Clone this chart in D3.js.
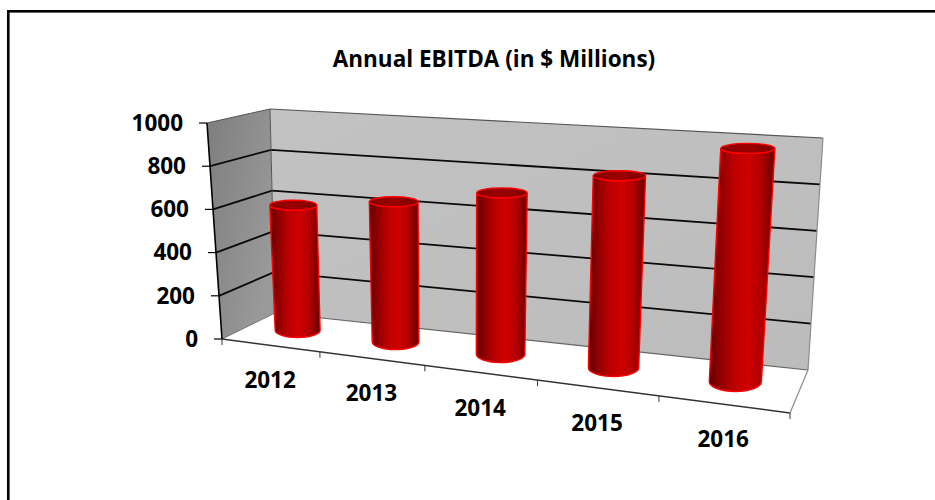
<!DOCTYPE html>
<html>
<head>
<meta charset="utf-8">
<script src="https://cdn.jsdelivr.net/npm/d3@7/dist/d3.min.js"></script>
<style>
  html, body { margin: 0; padding: 0; background: #fff; }
  svg { display: block; }
  text { font-family: "Open Sans", Lato, sans-serif; font-weight: 700; fill: #000; }
</style>
</head>
<body>
<svg id="chart" width="935" height="500"></svg>
<script>
const chartTitle = "Annual EBITDA (in $ Millions)";
const years = ["2012", "2013", "2014", "2015", "2016"];
const ebitda = [590, 645, 725, 840, 995];
const valueTicks = [0, 200, 400, 600, 800, 1000];

const svg = d3.select("#chart");
const width = 935, height = 500;
const labelSize = "22.5px";

// Corners of the 3D plot box on screen: f = front, b = back, l/r = left/right, 0 = floor, 1 = ceiling
const box = {
  fl0: [222, 339], fl1: [207, 123],
  fr0: [790, 413], fr1: [806, 168],
  bl0: [275, 313], bl1: [270, 109],
  br0: [808, 370], br1: [823, 138]
};

const band = d3.scaleBand().domain(years).range([0, 1]).paddingInner(0).paddingOuter(0);
const level = d3.scaleLinear().domain([0, 1000]).range([0, 1]);
const nearFarRatio = 1.2;   // foreshortening along the category axis
const barDepth = 0.55;      // columns stand a little behind the middle of the floor

const perspective = u => u / (u + nearFarRatio * (1 - u));
const mix = (a, b, t) => [a[0] + (b[0] - a[0]) * t, a[1] + (b[1] - a[1]) * t];

// Maps (along category axis, height, depth) to a screen position.
function project(u, v, d) {
  const s = perspective(u);
  const front = mix(mix(box.fl0, box.fr0, s), mix(box.fl1, box.fr1, s), v);
  const back = mix(mix(box.bl0, box.br0, s), mix(box.bl1, box.br1, s), v);
  return mix(front, back, d);
}

const poly = pts => "M" + pts.map(p => p.map(n => n.toFixed(2)).join(",")).join("L") + "Z";
const line = pts => "M" + pts.map(p => p.map(n => n.toFixed(2)).join(",")).join("L");

const defs = svg.append("defs");

function gradient(id, stops, x1 = 0, y1 = 0, x2 = 1, y2 = 0) {
  const g = defs.append("linearGradient").attr("id", id)
    .attr("x1", x1).attr("y1", y1).attr("x2", x2).attr("y2", y2);
  stops.forEach(([o, c]) => g.append("stop").attr("offset", o).attr("stop-color", c));
}
gradient("cylinderBody", [[0, "#5c0000"], [0.12, "#850000"], [0.35, "#b80000"], [0.58, "#cf0000"], [0.8, "#b00000"], [1, "#640000"]]);
gradient("cylinderTop", [[0, "#860000"], [0.5, "#9c0000"], [1, "#7c0000"]]);
gradient("sideWall", [[0, "#7e7e7e"], [1, "#9a9a9a"]], 0, 0, 1, 0.6);
gradient("backWall", [[0, "#c2c2c2"], [1, "#bcbcbc"]], 0, 0, 1, 1);

// Outer frame: only the top and left edges are visible
svg.append("rect").attr("x", 9).attr("y", 12).attr("width", 1).attr("height", height - 12).attr("fill", "#a8a8a8");
svg.append("rect").attr("x", 7).attr("y", 10).attr("width", width - 7).attr("height", 2.6).attr("fill", "#000");
svg.append("rect").attr("x", 7).attr("y", 10).attr("width", 2.4).attr("height", height - 10).attr("fill", "#000");

svg.append("text")
  .attr("x", 494).attr("y", 67)
  .attr("text-anchor", "middle")
  .style("font-size", labelSize)
  .text(chartTitle);

// Walls
svg.append("path").attr("d", poly([box.fl0, box.fl1, box.bl1, box.bl0])).attr("fill", "url(#sideWall)");
svg.append("path").attr("d", poly([box.bl0, box.bl1, box.br1, box.br0])).attr("fill", "url(#backWall)");

// Gridlines run along the side wall and then across the back wall
svg.append("g").selectAll("path")
  .data(valueTicks.filter(t => t > 0 && t < 1000))
  .join("path")
  .attr("d", t => {
    const v = level(t);
    return line([project(0, v, 0), project(0, v, 1), project(1, v, 1)]);
  })
  .attr("fill", "none").attr("stroke", "#0a0a0a").attr("stroke-width", 1.8);

// Box edges
const edge = (pts, color, w) => svg.append("path").attr("d", line(pts))
  .attr("fill", "none").attr("stroke", color).attr("stroke-width", w);
edge([box.fl1, box.bl1, box.bl0], "#555", 1);
edge([box.bl1, box.br1], "#555", 1.2);
edge([box.br1, box.br0], "#8c8c8c", 1.2);
edge([box.bl0, box.fl0], "#777", 1);
edge([box.bl0, box.br0], "#666", 1.2);
edge([box.br0, box.fr0], "#8c8c8c", 1.2);
edge([box.fl0, box.fr0], "#333", 1.5);

// Value axis with outward ticks
edge([box.fl1, box.fl0], "#000", 1.6);
const valueAxis = svg.append("g").selectAll("g").data(valueTicks).join("g")
  .attr("transform", t => {
    const p = project(0, level(t), 0);
    return `translate(${p[0]},${p[1]})`;
  });
valueAxis.append("line").attr("x1", -8).attr("x2", 0).attr("stroke", "#000").attr("stroke-width", 1.2);
valueAxis.append("text")
  .attr("x", -24).attr("dy", "0.35em")
  .attr("text-anchor", "end")
  .style("font-size", labelSize)
  .text(d => d);

// Category ticks on the front edge of the floor
const catEdges = d3.range(years.length + 1).map(i => i / years.length);
svg.append("g").selectAll("line").data(catEdges).join("line")
  .attr("x1", u => project(u, 0, 0)[0]).attr("x2", u => project(u, 0, 0)[0])
  .attr("y1", u => project(u, 0, 0)[1]).attr("y2", u => project(u, 0, 0)[1] + 6)
  .attr("stroke", "#333").attr("stroke-width", 1);

svg.append("g").selectAll("text").data(years).join("text")
  .attr("x", y => project(band(y) + band.bandwidth() / 2, 0, 0)[0])
  .attr("y", y => project(band(y) + band.bandwidth() / 2, 0, 0)[1] + 43)
  .attr("text-anchor", "middle")
  .style("font-size", labelSize)
  .text(y => y);

// Columns
const baseWidth = d3.scaleLinear().domain([0, 1]).range([44, 53]);
const topWidth = d3.scaleLinear().domain([0, 1]).range([46, 55]);
const baseRy = d3.scaleLinear().domain([0, 1]).range([7, 10]);
const topRy = 5;

const columns = svg.append("g").selectAll("g")
  .data(years.map((y, i) => ({ year: y, value: ebitda[i] })))
  .join("g");

columns.each(function (d) {
  const u = band(d.year) + band.bandwidth() / 2;
  const b = project(u, 0, barDepth);
  const t = project(u, level(d.value), barDepth);
  const bw = baseWidth(u) / 2, tw = topWidth(u) / 2, ry = baseRy(u);
  const g = d3.select(this);
  g.append("path")
    .attr("d", `M${t[0] - tw},${t[1]}L${b[0] - bw},${b[1]}A${bw},${ry} 0 0 0 ${b[0] + bw},${b[1]}L${t[0] + tw},${t[1]}A${tw},${topRy} 0 0 1 ${t[0] - tw},${t[1]}Z`)
    .attr("fill", "url(#cylinderBody)")
    .attr("stroke", "#f00").attr("stroke-width", 1.4);
  g.append("ellipse")
    .attr("cx", t[0]).attr("cy", t[1]).attr("rx", tw).attr("ry", topRy)
    .attr("fill", "url(#cylinderTop)")
    .attr("stroke", "#f00").attr("stroke-width", 1.4);
});
</script>
</body>
</html>
